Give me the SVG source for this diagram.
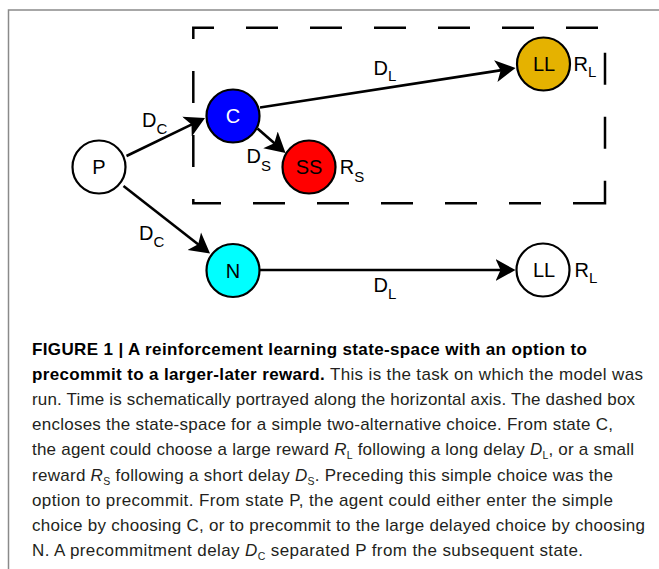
<svg xmlns="http://www.w3.org/2000/svg" width="659" height="569" viewBox="0 0 659 569">
<style>
.node{stroke:#000;stroke-width:2.2}
.lbl{font-family:"Liberation Sans",Arial,sans-serif;font-size:20px;fill:#000}
.mid{text-anchor:middle}
.sub{font-size:15px}
.edge{stroke:#000;stroke-width:2.6;fill:none;marker-end:url(#ah)}
.cap{font-family:"Liberation Sans",Arial,sans-serif;font-size:17px;fill:#231f20}
.b{font-weight:bold;fill:#000}
.cs{font-size:10.5px}
</style>
<defs>
<marker id="ah" markerUnits="userSpaceOnUse" viewBox="0 -12 22 24" markerWidth="22" markerHeight="24" refX="6" refY="0" orient="auto">
<path d="M20,0 L0,-11 L5,0 L0,11 Z" fill="#000"/>
</marker>
</defs>
<rect width="659" height="569" fill="#fff"/>
<path d="M8.5,569 V10 H659" fill="none" stroke="#8a8a8a" stroke-width="1.5"/>
<path id="box" d="M605,203.3 H193.3 V27.7 H605 Z" fill="none" stroke="#000" stroke-width="2.5" stroke-dasharray="32 32"/>
<g id="connectors">
<line class="edge" x1="126.5" y1="156" x2="192.4" y2="124.1"/>
<line class="edge" x1="123.5" y1="186" x2="199" y2="244.9"/>
<line class="edge" x1="257.5" y1="128.5" x2="275" y2="143.8"/>
<line class="edge" x1="260" y1="107.5" x2="501.7" y2="70.1"/>
<line class="edge" x1="260" y1="270" x2="501.5" y2="270"/>
<text class="lbl" x="142" y="127">D<tspan class="sub" dy="6.5">C</tspan></text>
<text class="lbl" x="139" y="240">D<tspan class="sub" dy="7">C</tspan></text>
<text class="lbl" x="246.5" y="162.7">D<tspan class="sub" dy="8">S</tspan></text>
<text class="lbl" x="373.5" y="75">D<tspan class="sub" dy="5.7">L</tspan></text>
<text class="lbl" x="373.5" y="291.7">D<tspan class="sub" dy="7.6">L</tspan></text>
</g>
<g id="P"><circle class="node" cx="99" cy="167" r="26.5" fill="#fff"/><text class="lbl mid" x="99" y="174">P</text></g>
<g id="C"><circle class="node" cx="233" cy="116" r="26.5" fill="#0000ff"/><text class="lbl mid" x="233" y="123" style="fill:#fff">C</text></g>
<g id="SS"><circle class="node" cx="309" cy="167" r="26.5" fill="#ff0000"/><text class="lbl mid" x="309" y="174">SS</text><text class="lbl" x="339.7" y="174">R<tspan class="sub" dy="7.7">S</tspan></text></g>
<g id="N"><circle class="node" cx="233" cy="270.5" r="26.5" fill="#00ffff"/><text class="lbl mid" x="233" y="278">N</text></g>
<g id="LL1"><circle class="node" cx="543.5" cy="64" r="26.5" fill="#e5b200"/><text class="lbl mid" x="544" y="71">LL</text><text class="lbl" x="573.5" y="70.7">R<tspan class="sub" dy="6.6">L</tspan></text></g>
<g id="LL2"><circle class="node" cx="543" cy="270" r="26.5" fill="#fff"/><text class="lbl mid" x="544" y="277">LL</text><text class="lbl" x="574.5" y="276.7">R<tspan class="sub" dy="6.6">L</tspan></text></g>
<g id="caption">
<text class="cap b" x="32" y="355" textLength="555">FIGURE 1 | A reinforcement learning state-space with an option to</text>
<text class="cap" x="32" y="380.1" textLength="611"><tspan class="b">precommit to a larger-later reward.</tspan> This is the task on which the model was</text>
<text class="cap" x="32" y="405.2" textLength="603">run. Time is schematically portrayed along the horizontal axis. The dashed box</text>
<text class="cap" x="32" y="430.3" textLength="581">encloses the state-space for a simple two-alternative choice. From state C,</text>
<text class="cap" x="32" y="455.4" textLength="602">the agent could choose a large reward <tspan font-style="italic">R</tspan><tspan class="cs" dy="4">L</tspan><tspan dy="-4"> following a long delay </tspan><tspan font-style="italic">D</tspan><tspan class="cs" dy="4">L</tspan><tspan dy="-4">, or a small</tspan></text>
<text class="cap" x="32" y="480.5" textLength="581">reward <tspan font-style="italic">R</tspan><tspan class="cs" dy="4">S</tspan><tspan dy="-4"> following a short delay </tspan><tspan font-style="italic">D</tspan><tspan class="cs" dy="4">S</tspan><tspan dy="-4">. Preceding this simple choice was the</tspan></text>
<text class="cap" x="32" y="505.6" textLength="581">option to precommit. From state P, the agent could either enter the simple</text>
<text class="cap" x="32" y="530.7" textLength="613">choice by choosing C, or to precommit to the large delayed choice by choosing</text>
<text class="cap" x="32" y="555.8" textLength="551">N. A precommitment delay <tspan font-style="italic">D</tspan><tspan class="cs" dy="4">C</tspan><tspan dy="-4"> separated P from the subsequent state.</tspan></text>
</g>
</svg>
